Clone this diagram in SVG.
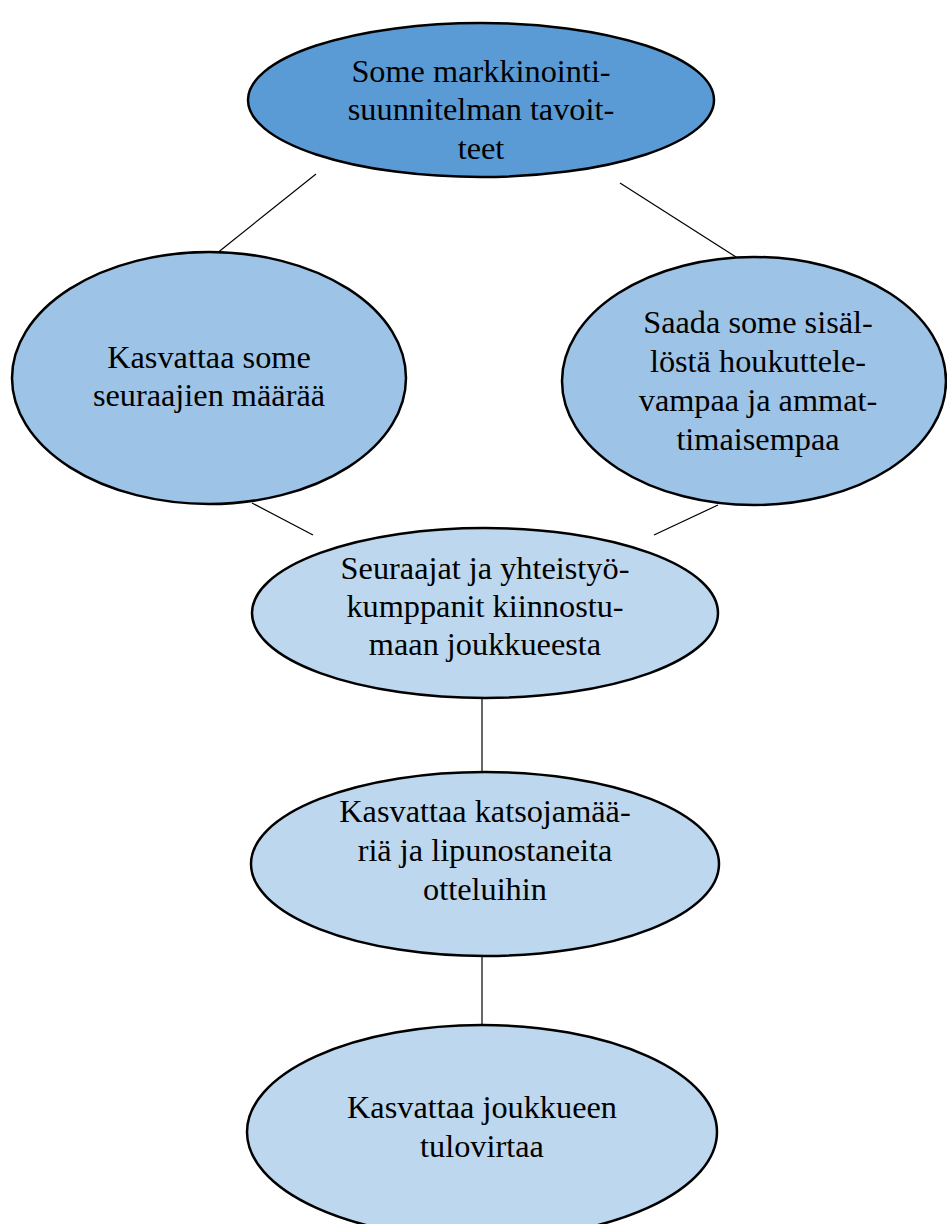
<svg xmlns="http://www.w3.org/2000/svg" width="947" height="1224" viewBox="0 0 947 1224">
<style>
.n{stroke:#000;stroke-width:2.5}
.c1{fill:#5b9bd5}.c2{fill:#9dc3e6}.c3{fill:#bdd7ee}
text{font-family:"Liberation Serif","Times New Roman",serif;font-size:32.3px;fill:#000;text-anchor:middle}
#connectors line{stroke:#000;stroke-width:1.2}
</style>
<rect width="947" height="1224" fill="#fff"/>
<g id="connectors">
<line x1="316" y1="174" x2="216" y2="254"/>
<line x1="620" y1="183" x2="736" y2="257"/>
<line x1="252" y1="503" x2="313" y2="535"/>
<line x1="718" y1="505" x2="654" y2="535"/>
<line x1="482" y1="698" x2="482" y2="772"/>
<line x1="482" y1="956" x2="482" y2="1025"/>
</g>
<g id="n1"><ellipse class="n c1" cx="481" cy="100" rx="233" ry="77"/>
<text x="481" y="82">Some markkinointi-</text><text x="481" y="120">suunnitelman tavoit-</text><text x="481" y="159">teet</text></g>
<g id="n2"><ellipse class="n c2" cx="209" cy="378" rx="197" ry="126"/>
<text x="209" y="368">Kasvattaa some</text><text x="209" y="406">seuraajien määrää</text></g>
<g id="n3"><ellipse class="n c2" cx="754" cy="381" rx="192" ry="124"/>
<text x="758" y="333">Saada some sisäl-</text><text x="758" y="372">löstä houkuttele-</text><text x="758" y="411">vampaa ja ammat-</text><text x="758" y="450">timaisempaa</text></g>
<g id="n4"><ellipse class="n c3" cx="485" cy="613" rx="233" ry="85"/>
<text x="485" y="579">Seuraajat ja yhteistyö-</text><text x="485" y="617">kumppanit kiinnostu-</text><text x="485" y="655">maan joukkueesta</text></g>
<g id="n5"><ellipse class="n c3" cx="485" cy="864" rx="234" ry="92"/>
<text x="485" y="822">Kasvattaa katsojamää-</text><text x="485" y="861">riä ja lipunostaneita</text><text x="485" y="900">otteluihin</text></g>
<g id="n6"><ellipse class="n c3" cx="482" cy="1132" rx="235" ry="107"/>
<text x="482" y="1118">Kasvattaa joukkueen</text><text x="482" y="1157">tulovirtaa</text></g>
</svg>
